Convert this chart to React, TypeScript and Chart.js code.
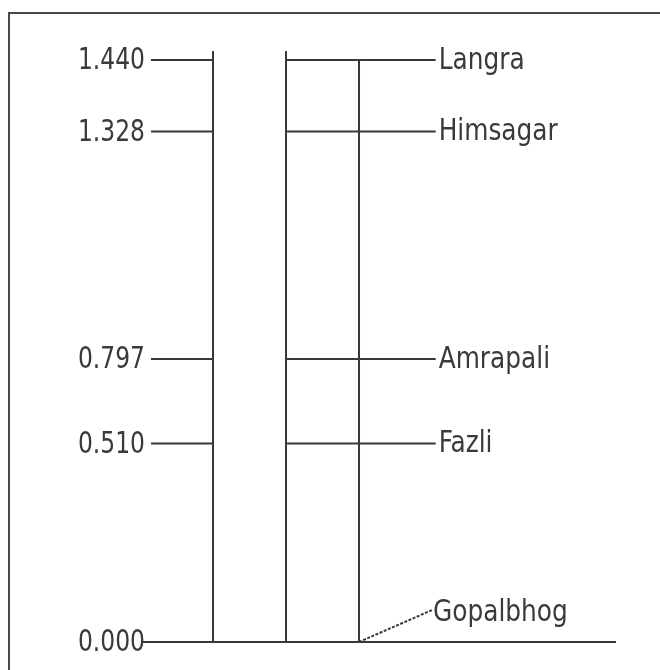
import React, { useEffect, useRef } from "react";
import { Chart, registerables } from "chart.js";

Chart.register(...registerables);

// Data
const varieties = ["Langra", "Himsagar", "Amrapali", "Fazli", "Gopalbhog"];
const levelLabels = ["1.440", "1.328", "0.797", "0.510", "0.000"];
// drawn heights of each level on the diagram's vertical scale
const levels = [1.44, 1.263, 0.7, 0.491, 0];
// dendrogram columns (vertical strokes)
const columns = [1, 2, 3];
const columnTops = [1.462, 1.462, 1.44];
// Gopalbhog leader line end
const leaderEnd = { x: 4.0, y: 0.079 };

const LINE = "#383838";
const TEXT = "#3a3a3a";
const FONT = "'DejaVu Sans Condensed', 'Liberation Sans Narrow', sans-serif";

const seg = (x1: number, y1: number, x2: number, y2: number, dash: number[] = []) => ({
  data: [
    { x: x1, y: y1 },
    { x: x2, y: y2 },
  ],
  showLine: true,
  borderColor: LINE,
  borderWidth: 2,
  borderDash: dash,
  pointRadius: 0,
  pointHoverRadius: 0,
  fill: false,
  clip: false as any,
});

export default function App() {
  const ref = useRef<HTMLCanvasElement | null>(null);

  useEffect(() => {
    if (!ref.current) return;
    const datasets: any[] = [];
    columns.forEach((c, i) => datasets.push(seg(c, 0, c, columnTops[i])));
    levels.forEach((lv) => {
      if (lv === 0) {
        datasets.push(seg(0.04, 0, 6.52, 0));
      } else {
        datasets.push(seg(0.15, lv, columns[0], lv));
        datasets.push(seg(columns[1], lv, 4.05, lv));
      }
    });
    datasets.push(seg(columns[2], 0, leaderEnd.x, leaderEnd.y, [3, 1.5]));

    const textPlugin = {
      id: "texts",
      afterDatasetsDraw(chart: any) {
        const { ctx, scales, chartArea } = chart;
        const xs = scales.x;
        const ys = scales.y;
        ctx.save();
        ctx.fillStyle = TEXT;
        ctx.textBaseline = "middle";
        // level labels, right-aligned left of the plot
        ctx.font = `31px ${FONT}`;
        ctx.textAlign = "right";
        const sxL = 0.84;
        levels.forEach((lv, i) => {
          const x = chartArea.left - 5;
          const y = ys.getPixelForValue(lv) + 1;
          ctx.save();
          ctx.translate(x, y);
          ctx.scale(sxL, 1);
          ctx.fillText(levelLabels[i], 0, 0);
          ctx.restore();
        });
        // variety names
        ctx.font = `30px ${FONT}`;
        ctx.textAlign = "left";
        const sxN = 0.92;
        varieties.forEach((name, i) => {
          let x: number, y: number;
          if (levels[i] === 0) {
            x = xs.getPixelForValue(leaderEnd.x) + 1;
            y = ys.getPixelForValue(leaderEnd.y) + 3;
          } else {
            x = xs.getPixelForValue(4.05) + 3;
            y = ys.getPixelForValue(levels[i]) + 1;
          }
          ctx.save();
          ctx.translate(x, y);
          ctx.scale(sxN, 1);
          ctx.fillText(name, 0, 0);
          ctx.restore();
        });
        ctx.restore();
      },
    };

    const chart = new Chart(ref.current, {
      type: "scatter",
      data: { datasets },
      options: {
        animation: false,
        responsive: false,
        maintainAspectRatio: false,
        events: [],
        layout: { padding: { left: 0, right: 40, top: 60, bottom: 28 } },
        plugins: { legend: { display: false }, tooltip: { enabled: false } },
        scales: {
          x: { type: "linear", min: 0.137, max: 6.575, display: false },
          y: {
            type: "linear",
            min: 0,
            max: 1.44,
            grid: { display: false, drawTicks: false },
            border: { display: false },
            afterFit: (scale: any) => {
              scale.width = 150;
            },
            afterBuildTicks: (scale: any) => {
              scale.ticks = levels.map((v) => ({ value: v }));
            },
            ticks: { display: false },
          },
        },
      },
      plugins: [textPlugin],
    });
    return () => chart.destroy();
  }, []);

  return (
    <div style={{ position: "fixed", left: 0, top: 0, width: 660, height: 670, background: "#fff", overflow: "hidden" }}>
      <div
        style={{
          position: "absolute",
          left: 8,
          top: 12,
          width: 652,
          height: 658,
          borderLeft: "2px solid #4a4a4a",
          borderTop: "2px solid #4a4a4a",
          boxSizing: "border-box",
        }}
      />
      <canvas ref={ref} width={660} height={670} style={{ position: "absolute", left: 0, top: 0 }} />
    </div>
  );
}
